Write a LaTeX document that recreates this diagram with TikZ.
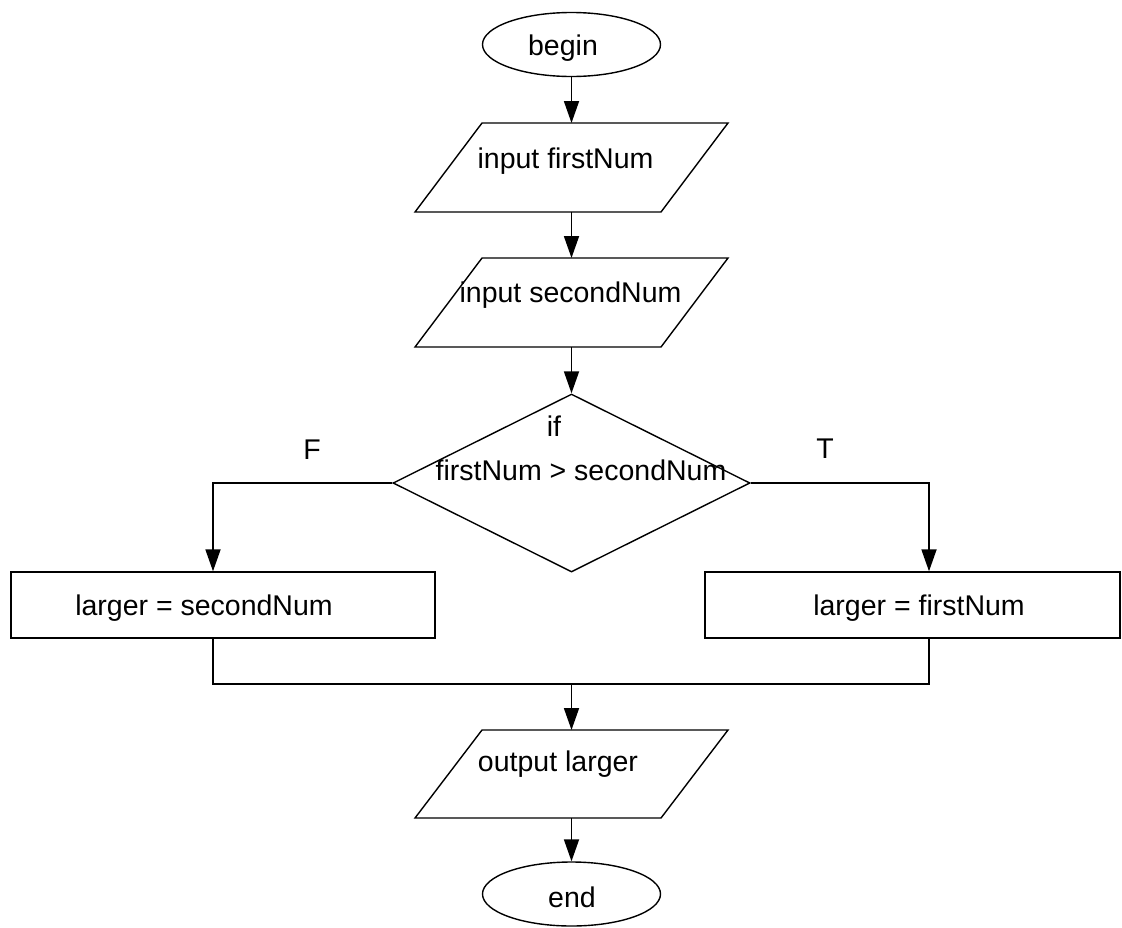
\documentclass[tikz,border=0pt]{standalone}
\usepackage{fontspec}
\setmainfont{Liberation Sans}
\usetikzlibrary{shapes.geometric,arrows.meta}
\begin{document}
\begin{tikzpicture}[x=1pt,y=-1pt,
  outline/.style={draw=black,line width=1.4pt},
  terminal/.style={outline,ellipse,minimum width=178pt,minimum height=64pt,inner sep=0pt},
  iobody/.style={rectangle,minimum width=246pt,minimum height=89pt,inner sep=0pt,outer sep=0pt},
  process/.style={outline,rectangle,minimum height=66pt,inner sep=0pt},
  decision/.style={outline,diamond,minimum width=357pt,minimum height=178pt,inner sep=0pt},
  txt/.style={anchor=base,font=\fontsize{28.5}{34}\selectfont,inner sep=0pt},
  flow/.style={line width=1.8pt},
  arrow/.style={flow,-{Triangle[width=15pt,length=22pt]}}
]
% page
\fill[white] (0,0) rectangle (1122,927);
\useasboundingbox (0,0) rectangle (1122,927);

% parallelogram outline around an invisible body node
\newcommand{\iooutline}[1]{%
  \draw[outline] ([xshift=33.5pt]#1.north west) -- ([xshift=33.5pt]#1.north east)
    -- ([xshift=-33.5pt]#1.south east) -- ([xshift=-33.5pt]#1.south west) -- cycle;}

% shapes
\node[terminal] (begin) at (571.5,44.5) {};
\node[iobody] (in1) at (571.5,167.5) {};
\iooutline{in1}
\node[iobody] (in2) at (571.5,302.5) {};
\iooutline{in2}
\node[decision] (dec) at (571.5,483) {};
\node[process,minimum width=424pt] (lbox) at (223,605) {};
\node[process,minimum width=415pt] (rbox) at (912.5,605) {};
\node[iobody,minimum height=88pt] (out) at (571.5,774) {};
\iooutline{out}
\node[terminal] (end) at (571.5,894) {};

% texts
\node[txt] (tbegin) at (563,55) {begin};
\node[txt] (tin1) at (565.5,168) {input firstNum};
\node[txt] (tin2) at (570.5,302) {input secondNum};
\node[txt] (tif) at (554,436) {if};
\node[txt] (tcond) at (581,480) {firstNum > secondNum};
\node[txt] (tF) at (312,459) {F};
\node[txt] (tT) at (825,458) {T};
\node[txt] (tl) at (204,615) {larger = secondNum};
\node[txt] (tr) at (919,615) {larger = firstNum};
\node[txt] (tout) at (558,771) {output larger};
\node[txt] (tend) at (572,907) {end};

% connectors
\coordinate (lcol) at (213,605);
\coordinate (rcol) at (929,605);
\coordinate (join) at (571.5,684);

\draw[arrow] (begin.south) -- (in1.north);
\draw[arrow] (in1.south) -- (in2.north);
\draw[arrow] (in2.south) -- (dec.north);
\draw[arrow] (dec.west) -| (lcol |- lbox.north);
\draw[arrow] (dec.east) -| (rcol |- rbox.north);
\draw[flow] (lcol |- lbox.south) |- (join) -| (rcol |- rbox.south);
\draw[arrow] (join) -- (out.north);
\draw[arrow] (out.south) -- (end.north);
\end{tikzpicture}
\end{document}
